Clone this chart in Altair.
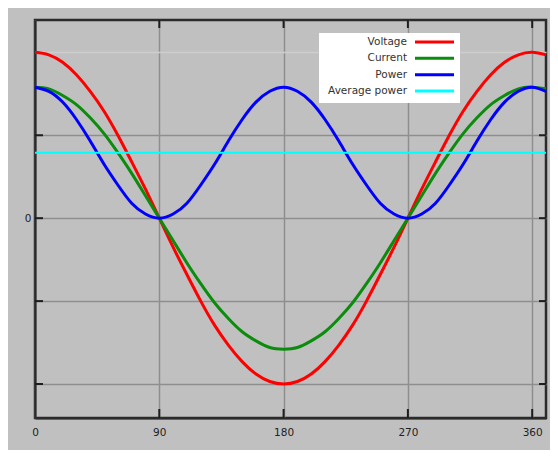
import altair as alt
import pandas as pd

# ---- data ----
angle = [0, 10, 20, 30, 40, 50, 60, 70, 80, 90, 100, 110, 120, 130, 140, 150, 160, 170, 180,
         190, 200, 210, 220, 230, 240, 250, 260, 270, 280, 290, 300, 310, 320, 330, 340, 350, 360, 370]
voltage = [2.00, 1.97, 1.88, 1.73, 1.53, 1.29, 1.00, 0.68, 0.35, 0.00, -0.35, -0.68, -1.00, -1.29,
           -1.53, -1.73, -1.88, -1.97, -2.00, -1.97, -1.88, -1.73, -1.53, -1.29, -1.00, -0.68, -0.35,
           0.00, 0.35, 0.68, 1.00, 1.29, 1.53, 1.73, 1.88, 1.97, 2.00, 1.97]
current = [1.58, 1.56, 1.48, 1.37, 1.21, 1.02, 0.79, 0.54, 0.27, 0.00, -0.27, -0.54, -0.79, -1.02,
           -1.21, -1.37, -1.48, -1.56, -1.58, -1.56, -1.48, -1.37, -1.21, -1.02, -0.79, -0.54, -0.27,
           0.00, 0.27, 0.54, 0.79, 1.02, 1.21, 1.37, 1.48, 1.56, 1.58, 1.56]
power = [1.58, 1.53, 1.40, 1.19, 0.93, 0.65, 0.40, 0.18, 0.05, 0.00, 0.05, 0.18, 0.40, 0.65,
         0.93, 1.19, 1.40, 1.53, 1.58, 1.53, 1.40, 1.19, 0.93, 0.65, 0.40, 0.18, 0.05,
         0.00, 0.05, 0.18, 0.40, 0.65, 0.93, 1.19, 1.40, 1.53, 1.58, 1.53]
avg_power = 0.79

series_names = ["Voltage", "Current", "Power", "Average power"]
series_colors = ["#ff0000", "#0c8c0c", "#0000ff", "#00ffff"]

x_tick_values = [0, 90, 180, 270, 360]
y_tick_values = [-2, -1, 0, 1, 2]

# ---- tables ----
rows = []
for name, vals in [("Voltage", voltage), ("Current", current), ("Power", power)]:
    for a, v in zip(angle, vals):
        rows.append({"angle": a, "value": v, "series": name})
df = pd.DataFrame(rows)
legend_df = pd.DataFrame({"name": series_names, "color": series_colors})
xt_df = pd.DataFrame({"angle": x_tick_values[1:]})
yt_df = pd.DataFrame({"value": y_tick_values[:-1]})

W, H = 511, 398
xscale = alt.Scale(domain=[0, 370], nice=False, zero=False)
yscale = alt.Scale(domain=[-2.41, 2.39], nice=False, zero=False)
color_scale = alt.Scale(domain=series_names, range=series_colors)

grid_cond = {"condition": {"test": "datum.value === 2", "value": "#cdcdcd"}, "value": "#8e8e8e"}

X = alt.X("angle:Q", scale=xscale, title=None,
          axis=alt.Axis(values=x_tick_values, grid=True, gridColor="#8e8e8e", gridWidth=1.5,
                        ticks=False, domainColor="#2b2b2b", domainWidth=2, labelFlush=False,
                        labelFont="DejaVu Sans", labelFontSize=10.5, labelColor="#222222",
                        labelPadding=9))
Y = alt.Y("value:Q", scale=yscale, title=None,
          axis=alt.Axis(values=y_tick_values, grid=True, gridColor=grid_cond, gridWidth=1.5,
                        ticks=False, domainColor="#2b2b2b", domainWidth=2, labelFlush=False,
                        labelExpr="datum.value === 0 ? '0' : ''",
                        labelFont="DejaVu Sans", labelFontSize=10.5, labelColor="#222222",
                        labelPadding=4))

lines = alt.Chart(df).mark_line(strokeWidth=3, interpolate="natural").encode(
    x=X, y=Y,
    color=alt.Color("series:N", scale=color_scale, legend=None),
    detail="series:N",
)

avg = alt.Chart(pd.DataFrame({"value": [avg_power]})).mark_rule(color="#00ffff", strokeWidth=2).encode(
    y=Y
)

tick_color = "#1e1e1e"
ytl = alt.Chart(yt_df).mark_rule(color=tick_color, strokeWidth=2).encode(
    y=Y, x=alt.value(0), x2=alt.value(8))
ytr = alt.Chart(yt_df).mark_rule(color=tick_color, strokeWidth=2).encode(
    y=Y, x=alt.value(W - 7), x2=alt.value(W))
xtb = alt.Chart(xt_df).mark_rule(color=tick_color, strokeWidth=2).encode(
    x=X, y=alt.value(H - 9), y2=alt.value(H))
xtt = alt.Chart(xt_df).mark_rule(color=tick_color, strokeWidth=2).encode(
    x=X, y=alt.value(0), y2=alt.value(8))

main = alt.layer(lines, avg, ytl, ytr, xtb, xtt)

# ---- legend (label on the left, line swatch on the right) ----
ly = alt.Y("name:N", scale=alt.Scale(type="point", domain=series_names, range=[22, 71], padding=0),
           axis=None)
leg_box = alt.Chart(pd.DataFrame({"k": [1]})).mark_rect(color="white").encode(
    x=alt.value(284), x2=alt.value(425), y=alt.value(13), y2=alt.value(83))
leg_text = alt.Chart(legend_df).mark_text(
    align="right", baseline="middle", font="DejaVu Sans", fontSize=10.5, color="#333333"
).encode(x=alt.value(372), y=ly, text="name:N")
leg_sw = alt.Chart(legend_df).mark_rule(strokeWidth=3).encode(
    x=alt.value(380), x2=alt.value(419), y=ly,
    color=alt.Color("name:N", scale=color_scale, legend=None))
legend = alt.layer(leg_box, leg_text, leg_sw)

chart = alt.layer(main, legend).resolve_scale(y="independent", color="independent").properties(
    width=W, height=H,
    padding={"left": 27, "top": 12, "right": 4, "bottom": 32},
    autosize=alt.AutoSizeParams(type="none"),
    background="#c0c0c0",
).configure_view(stroke="#2b2b2b", strokeWidth=2.5, fill="#c0c0c0")

chart.save("out.html", embed_options={"renderer": "svg", "actions": False})
